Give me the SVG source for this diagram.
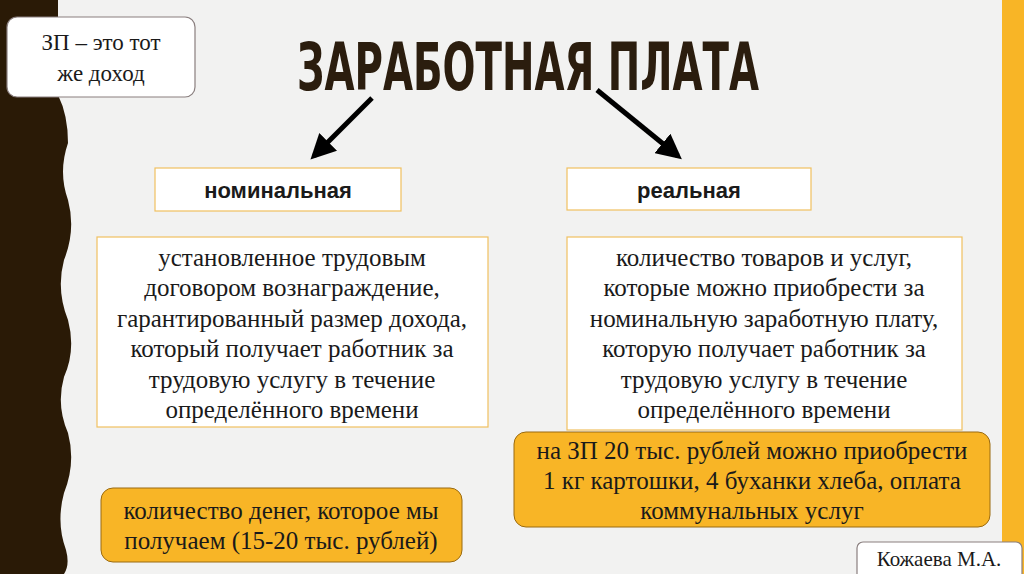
<svg xmlns="http://www.w3.org/2000/svg" width="1024" height="574" viewBox="0 0 1024 574">
<defs>
<style>
.t{font-family:"Liberation Serif","Times New Roman",serif;font-size:25px;fill:#1a1a1a;text-anchor:middle}
.b{font-family:"Liberation Sans",sans-serif;font-weight:bold;font-size:22px}
.wb{fill:#fff;stroke:#f0c060;stroke-width:1.2}
.ob{fill:#f8b526;stroke:#9a6a10;stroke-width:1}
</style>
<marker id="ah" viewBox="0 0 10 10" refX="8" refY="5" markerWidth="5" markerHeight="5" orient="auto"><path d="M0,0 L10,5 L0,10 z" fill="#000"/></marker>
</defs>
<rect width="1024" height="574" fill="#f2f2f1"/>
<path d="M0,0 H58 V95 Q68,115 68,143 Q58,172 68,200 Q76,230 64,260 Q56,290 68,320 Q76,350 64,377 Q56,405 68,433 Q76,463 64,493 Q56,523 66,550 Q70,565 64,574 H0 Z" fill="#2a1a06"/>
<rect x="1002" y="0" width="22" height="574" fill="#f8b526"/>
<g id="zp"><rect x="7" y="17" width="188" height="80" rx="10" fill="#fff" stroke="#8a7f7f" stroke-width="1.2"/>
<text class="t" x="101" y="50" style="font-size:23px">ЗП – это тот</text><text class="t" x="101" y="81" style="font-size:23px">же доход</text></g>
<g id="title"><text x="528" y="90" font-family="DejaVu Sans Condensed,DejaVu Sans,sans-serif" font-weight="bold" font-size="66" fill="#2b1d0e" text-anchor="middle" textLength="462" lengthAdjust="spacingAndGlyphs">ЗАРАБОТНАЯ ПЛАТА</text></g>
<g id="connectors" stroke="#000" stroke-width="5" marker-end="url(#ah)">
<line x1="372" y1="98" x2="314" y2="156"/>
<line x1="597" y1="90" x2="678" y2="156"/>
</g>
<g id="nom"><rect class="wb" x="155" y="168" width="246" height="43"/><text class="t b" x="278" y="198">номинальная</text></g>
<g id="real"><rect class="wb" x="567" y="168" width="244" height="42"/><text class="t b" x="689" y="198">реальная</text></g>
<g id="nomdesc"><rect class="wb" x="97" y="237" width="391" height="190"/>
<text class="t" x="292" y="266">установленное трудовым</text>
<text class="t" x="292" y="296">договором вознаграждение,</text>
<text class="t" x="292" y="327">гарантированный размер дохода,</text>
<text class="t" x="292" y="357">который получает работник за</text>
<text class="t" x="292" y="388">трудовую услугу в течение</text>
<text class="t" x="292" y="418">определённого времени</text></g>
<g id="realdesc"><rect class="wb" x="567" y="237" width="395" height="193"/>
<text class="t" x="764" y="266">количество товаров и услуг,</text>
<text class="t" x="764" y="296">которые можно приобрести за</text>
<text class="t" x="764" y="327">номинальную заработную плату,</text>
<text class="t" x="764" y="357">которую получает работник за</text>
<text class="t" x="764" y="388">трудовую услугу в течение</text>
<text class="t" x="764" y="418">определённого времени</text></g>
<g id="realex"><rect class="ob" x="514" y="432" width="476" height="95" rx="12"/>
<text class="t" x="752" y="459">на ЗП 20 тыс. рублей можно приобрести</text>
<text class="t" x="752" y="489">1 кг картошки, 4 буханки хлеба, оплата</text>
<text class="t" x="752" y="519">коммунальных услуг</text></g>
<g id="nomex"><rect class="ob" x="101" y="488" width="361" height="74" rx="12"/>
<text class="t" x="281" y="519">количество денег, которое мы</text>
<text class="t" x="281" y="549">получаем (15-20 тыс. рублей)</text></g>
<g id="author"><rect x="857" y="542" width="165" height="40" rx="6" fill="#fff" stroke="#8a7f7f" stroke-width="1.2"/>
<text class="t" x="939" y="566" style="font-size:21px">Кожаева М.А.</text></g>
</svg>
